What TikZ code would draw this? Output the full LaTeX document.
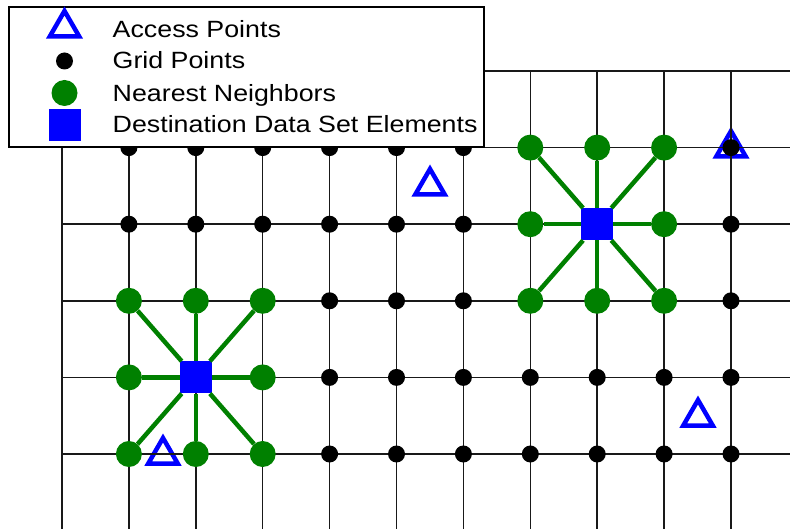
\documentclass[tikz,border=0pt]{standalone}
\usepackage{fontspec}
\usetikzlibrary{shapes.geometric}
\newfontfamily\legfont{Liberation Sans}[FakeStretch=1.14]
\definecolor{nbgreen}{RGB}{0,128,0}
\definecolor{apblue}{RGB}{0,0,255}
\begin{document}
\begin{tikzpicture}[x=1pt,y=-1pt,
  gridline/.style={line width=1.5pt,black!90},
  gpt/.style={circle,fill=black,inner sep=0pt,minimum size=17pt},
  nbr/.style={circle,fill=nbgreen,inner sep=0pt,minimum size=26pt},
  dst/.style={rectangle,fill=apblue,inner sep=0pt,minimum size=32pt},
  ap/.style={regular polygon,regular polygon sides=3,draw=apblue,line width=4.5pt,
             inner sep=0pt,outer sep=0pt,minimum size=34pt},
  link/.style={draw=nbgreen,line width=4.5pt},
  legbox/.style={draw=black,line width=1.5pt,fill=white,inner sep=0pt,
                 minimum width=475pt,minimum height=140pt},
  legtext/.style={anchor=base west,inner sep=0pt,
                  font=\legfont\fontsize{23.5}{28}\selectfont}]
\useasboundingbox (0,0) rectangle (790,529);

% access points (drawn below the grid)
\node[ap] (ap1) at (163,455) {};
\node[ap] (ap2) at (430,186) {};
\node[ap] (ap3) at (731,148) {};
\node[ap] (ap4) at (698,417) {};

% grid lines
\foreach \k in {0,...,10}
  \draw[gridline] ({62+66.9*\k},71) -- ({62+66.9*\k},529);
\foreach \j in {0,...,5}
  \draw[gridline] (62,{71+76.6*\j}) -- (790,{71+76.6*\j});

% grid points
\foreach \i in {1,...,10}
  \foreach \j in {1,...,5}
    \node[gpt] (g-\i-\j) at ({62+66.9*\i},{71+76.6*\j}) {};

% destination elements with their nearest neighbours
\foreach \ci/\cj/\nm in {2/4/L,8/2/R} {
  \node[dst] (d\nm) at ({62+66.9*\ci},{71+76.6*\cj}) {};
  \foreach \di/\dj/\n in {-1/-1/1,0/-1/2,1/-1/3,-1/0/4,1/0/5,-1/1/6,0/1/7,1/1/8} {
    \node[nbr] (n\nm\n) at ({62+66.9*(\ci+\di)},{71+76.6*(\cj+\dj)}) {};
    \draw[link] (d\nm) -- (n\nm\n);
  }
}

% legend
\node[legbox] (legend) at (246.5,77) {};
\node[ap]  (lap)  at (64.5,28) {};
\node[gpt] (lgp)  at (64.5,61) {};
\node[nbr] (lnb)  at (64.5,93) {};
\node[dst] (ldst) at (64.5,125.5) {};
\node[legtext] (tap)  at (112.5,37.5)  {Access Points};
\node[legtext] (tgp)  at (112.5,69)    {Grid Points};
\node[legtext] (tnb)  at (112.5,101.5) {Nearest Neighbors};
\node[legtext] (tdst) at (112.5,133)   {Destination Data Set Elements};
\end{tikzpicture}
\end{document}
